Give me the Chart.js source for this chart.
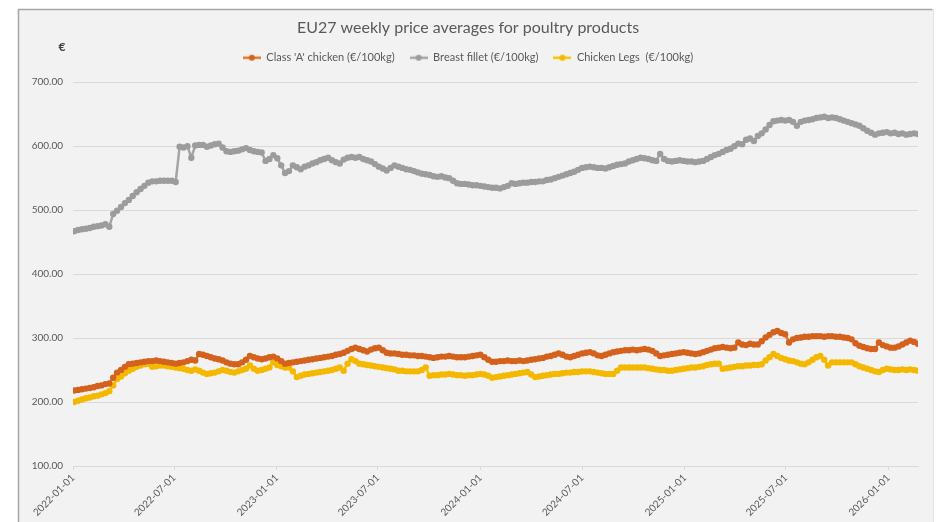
<!DOCTYPE html>
<html>
<head>
<meta charset="utf-8">
<title>EU27 weekly price averages for poultry products</title>
<script src="https://cdn.jsdelivr.net/npm/chart.js@4.4.1/dist/chart.umd.min.js"></script>
<style>
    html, body { margin: 0; padding: 0; background: #ffffff; }
    #wrap { width: 939px; height: 522px; }
</style>
</head>
<body>
<div id="wrap"><canvas id="poultryChart" width="939" height="522"></canvas></div>
<script>
// weekly prices, first week starts 2022-01-03
const firstWeek = '2022-01-03';

const seriesNames = [
    "Class 'A' chicken (€/100kg)",
    'Breast fillet (€/100kg)',
    'Chicken Legs  (€/100kg)'
];

const classAChicken = [
    218, 219, 220, 221, 222, 223, 225, 226, 228, 229,
    238, 246, 250, 255, 259, 260, 261, 262, 263, 264,
    264, 265, 264, 263, 262, 261, 260, 261, 262, 264,
    266, 265, 275, 274, 272, 270, 268, 267, 265, 262,
    260, 259, 259, 262, 266, 272, 270, 268, 267, 268,
    270, 271, 268, 264, 260, 261, 262, 263, 264, 265,
    266, 267, 268, 269, 270, 271, 272, 274, 275, 277,
    280, 283, 285, 283, 281, 279, 282, 284, 285, 281,
    277, 276, 276, 275, 274, 274, 273, 273, 272, 272,
    271, 270, 269, 270, 271, 271, 272, 271, 270, 270,
    270, 271, 272, 273, 274, 270, 266, 263, 263, 264,
    264, 265, 264, 264, 265, 264, 265, 266, 267, 268,
    269, 271, 272, 274, 276, 274, 271, 270, 272, 274,
    276, 277, 278, 276, 273, 272, 274, 276, 278, 279,
    280, 281, 281, 282, 281, 282, 283, 282, 280, 276,
    272, 273, 274, 275, 276, 277, 278, 277, 276, 275,
    276, 278, 280, 282, 284, 285, 286, 285, 284, 285,
    293, 290, 289, 291, 290, 290, 295, 301, 305, 309,
    311, 308, 306, 293, 298, 300, 301, 302, 302, 303,
    303, 303, 302, 303, 303, 302, 302, 301, 300, 298,
    292, 288, 286, 284, 283, 283, 293, 289, 287, 285,
    285, 287, 290, 293, 296, 294, 291
];

const breastFillet = [
    467, 469, 470, 471, 472, 474, 475, 476, 478, 474,
    494, 499, 505, 511, 516, 522, 528, 533, 538, 543,
    545, 545, 546, 546, 546, 546, 544, 599, 598, 600,
    582, 601, 602, 602, 599, 601, 603, 604, 598, 592,
    591, 592, 593, 595, 597, 594, 592, 591, 590, 577,
    580, 586, 581, 570, 558, 561, 570, 567, 564, 568,
    570, 573, 575, 578, 580, 582, 578, 575, 573, 579,
    582, 583, 582, 583, 580, 578, 576, 572, 568, 565,
    562, 566, 570, 568, 566, 564, 563, 561, 559, 557,
    556, 555, 553, 552, 553, 551, 550, 546, 542, 541,
    541, 540, 539, 539, 538, 537, 536, 535, 535, 534,
    536, 538, 542, 541, 542, 543, 543, 544, 544, 545,
    545, 547, 548, 550, 552, 554, 556, 558, 560, 563,
    566, 567, 568, 567, 566, 566, 565, 567, 569, 571,
    572, 573, 576, 578, 580, 582, 581, 580, 578, 577,
    588, 580, 577, 576, 577, 578, 577, 576, 576, 575,
    576, 577, 580, 583, 586, 588, 591, 594, 596, 600,
    604, 603, 610, 612, 608, 616, 620, 626, 633, 639,
    640, 641, 640, 641, 638, 632, 638, 640, 641, 642,
    644, 645, 646, 644, 645, 644, 642, 640, 638, 636,
    634, 632, 628, 624, 621, 618, 620, 621, 622, 620,
    621, 619, 620, 618, 619, 620, 619
];

const chickenLegs = [
    200, 202, 204, 206, 207, 209, 210, 212, 214, 217,
    226, 236, 240, 245, 249, 252, 255, 257, 259, 260,
    255, 256, 257, 257, 256, 255, 254, 253, 252, 250,
    249, 251, 249, 246, 244, 245, 246, 248, 250, 249,
    247, 246, 248, 250, 252, 257, 252, 249, 250, 252,
    254, 262, 258, 256, 254, 254, 248, 239, 241, 243,
    244, 245, 246, 247, 248, 249, 250, 252, 254, 249,
    260, 267, 264, 260, 259, 258, 257, 256, 255, 254,
    253, 252, 251, 249, 249, 248, 248, 248, 248, 250,
    254, 241, 242, 242, 243, 243, 244, 243, 242, 242,
    241, 242, 242, 243, 244, 243, 241, 238, 239, 240,
    241, 242, 243, 244, 245, 246, 247, 243, 239, 240,
    241, 242, 243, 244, 244, 245, 246, 246, 247, 247,
    248, 248, 248, 247, 246, 245, 244, 244, 244, 249,
    254, 254, 254, 254, 254, 254, 254, 253, 252, 251,
    250, 250, 249, 249, 250, 251, 252, 253, 254, 254,
    255, 256, 258, 259, 260, 260, 252, 253, 254, 255,
    256, 256, 257, 257, 258, 258, 259, 265, 270, 275,
    272, 269, 267, 265, 264, 262, 260, 259, 262, 266,
    270, 272, 266, 257, 262, 262, 262, 262, 262, 262,
    259, 256, 254, 252, 250, 248, 247, 250, 252, 251,
    250, 250, 251, 250, 251, 250, 249
];

const xTickLabels = [
    '2022-01-01', '2022-07-01', '2023-01-01', '2023-07-01', '2024-01-01',
    '2024-07-01', '2025-01-01', '2025-07-01', '2026-01-01'
];

const yTicks = [100, 200, 300, 400, 500, 600, 700];

// x axis is "days since 2022-01-01"
const DAY = 86400000;
const origin = Date.UTC(2022, 0, 1);
function dayOf(iso) {
    const p = iso.split('-').map(Number);
    return Math.round((Date.UTC(p[0], p[1] - 1, p[2]) - origin) / DAY);
}
const startDay = dayOf(firstWeek);
const weekDays = classAChicken.map((v, i) => startDay + i * 7);
const tickDays = xTickLabels.map(dayOf);
const labelByDay = {};
tickDays.forEach((d, i) => { labelByDay[d] = xTickLabels[i]; });

function toPoints(values) {
    return values.map((v, i) => ({ x: weekDays[i], y: v }));
}

// legend icon: short line with a round marker, like the spreadsheet legend
function legendIcon(lineColor, dotColor) {
    const c = document.createElement('canvas');
    c.width = 18;
    c.height = 8;
    const g = c.getContext('2d');
    g.strokeStyle = lineColor;
    g.lineWidth = 2.5;
    g.beginPath();
    g.moveTo(0, 4);
    g.lineTo(18, 4);
    g.stroke();
    g.fillStyle = dotColor;
    g.beginPath();
    g.arc(9, 4, 3, 0, Math.PI * 2);
    g.fill();
    return c;
}

const colors = [
    { line: '#e3742c', dot: '#d4621c' },
    { line: '#a5a5a5', dot: '#9c9c9c' },
    { line: '#ffc000', dot: '#f5b800' }
];

// white page with grey chart panel, plus the euro sign above the y axis
const panelPlugin = {
    id: 'panel',
    beforeInit(chart) {
        // extra room between legend and plot area
        const legend = chart.legend;
        const fit = legend.fit;
        legend.fit = function () {
            fit.call(this);
            this.height += 9;
        };
    },
    beforeDraw(chart) {
        const ctx = chart.ctx;
        ctx.save();
        ctx.fillStyle = '#ffffff';
        ctx.fillRect(0, 0, chart.width, chart.height);
        ctx.fillStyle = '#f2f2f2';
        ctx.fillRect(18, 9, 915, chart.height - 9);
        ctx.strokeStyle = '#a6a6a6';
        ctx.lineWidth = 1.5;
        ctx.beginPath();
        ctx.moveTo(18.5, chart.height);
        ctx.lineTo(18.5, 9.5);
        ctx.lineTo(932.5, 9.5);
        ctx.stroke();
        ctx.strokeStyle = '#e3e3e3';
        ctx.lineWidth = 1;
        ctx.beginPath();
        ctx.moveTo(933.5, 9.5);
        ctx.lineTo(933.5, chart.height);
        ctx.stroke();
        ctx.restore();
    },
    afterDraw(chart) {
        const ctx = chart.ctx;
        ctx.save();
        ctx.fillStyle = '#404040';
        ctx.font = 'bold 12px Lato';
        ctx.textAlign = 'center';
        ctx.textBaseline = 'middle';
        ctx.fillText('€', 62, 47);
        ctx.restore();
    }
};

const ctx = document.getElementById('poultryChart').getContext('2d');

new Chart(ctx, {
    type: 'line',
    data: {
        datasets: [
            {
                label: seriesNames[0],
                data: toPoints(classAChicken),
                borderColor: colors[0].line,
                backgroundColor: colors[0].dot,
                pointBackgroundColor: colors[0].dot,
                pointBorderWidth: 0,
                pointRadius: 3.2,
                borderWidth: 2.5
            },
            {
                label: seriesNames[1],
                data: toPoints(breastFillet),
                borderColor: colors[1].line,
                backgroundColor: colors[1].dot,
                pointBackgroundColor: colors[1].dot,
                pointBorderWidth: 0,
                pointRadius: 3.2,
                borderWidth: 2.5
            },
            {
                label: seriesNames[2],
                data: toPoints(chickenLegs),
                borderColor: colors[2].line,
                backgroundColor: colors[2].dot,
                pointBackgroundColor: colors[2].dot,
                pointBorderWidth: 0,
                pointRadius: 3.2,
                borderWidth: 2.5
            }
        ]
    },
    options: {
        responsive: false,
        animation: false,
        devicePixelRatio: 1,
        layout: {
            padding: { left: 18, right: 21, top: 10, bottom: 0 }
        },
        plugins: {
            title: {
                display: true,
                text: 'EU27 weekly price averages for poultry products',
                color: '#595959',
                font: { family: 'Lato', size: 16, weight: 'normal' },
                padding: { top: 8, bottom: 0 }
            },
            legend: {
                display: true,
                position: 'top',
                labels: {
                    color: '#595959',
                    font: { family: 'Lato', size: 11 },
                    usePointStyle: true,
                    pointStyleWidth: 18,
                    padding: 15,
                    generateLabels(chart) {
                        const items = Chart.defaults.plugins.legend.labels.generateLabels(chart);
                        items.forEach((item, i) => {
                            item.pointStyle = legendIcon(colors[i].line, colors[i].dot);
                        });
                        return items;
                    }
                }
            },
            tooltip: { enabled: false }
        },
        scales: {
            x: {
                type: 'linear',
                min: 0,
                max: weekDays[weekDays.length - 1],
                afterBuildTicks(scale) {
                    scale.ticks = tickDays.map(v => ({ value: v }));
                },
                afterFit(scale) {
                    scale.height = 56;
                },
                border: { display: true, color: '#d9d9d9', width: 1 },
                grid: {
                    drawOnChartArea: false,
                    drawTicks: true,
                    tickLength: 4,
                    color: '#d9d9d9'
                },
                ticks: {
                    autoSkip: false,
                    maxRotation: 45,
                    minRotation: 45,
                    padding: 2,
                    color: '#595959',
                    font: { family: 'Lato', size: 10 },
                    callback: function (value) {
                        return labelByDay[value] || '';
                    }
                }
            },
            y: {
                min: 100,
                max: 700,
                afterBuildTicks(scale) {
                    scale.ticks = yTicks.map(v => ({ value: v }));
                },
                afterFit(scale) {
                    scale.width = 55;
                },
                border: { display: false },
                grid: {
                    color: '#d9d9d9',
                    lineWidth: 1,
                    drawTicks: false
                },
                ticks: {
                    padding: 10,
                    color: '#595959',
                    font: { family: 'Lato', size: 10 },
                    callback: function (value) {
                        return Number(value).toFixed(2);
                    }
                }
            }
        }
    },
    plugins: [panelPlugin]
});
</script>
</body>
</html>
